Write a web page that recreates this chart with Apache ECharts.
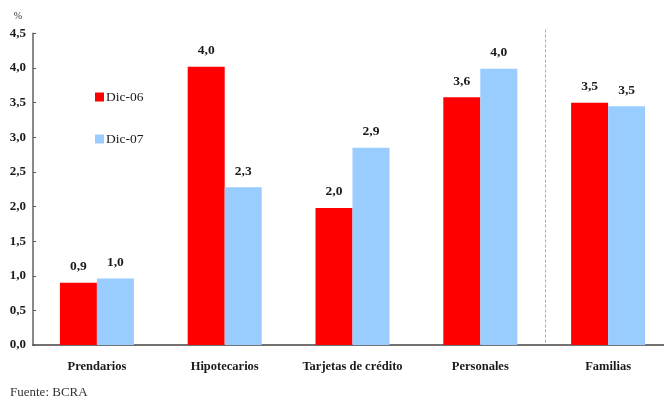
<!DOCTYPE html>
<html>
<head>
<meta charset="utf-8">
<script src="https://cdn.jsdelivr.net/npm/echarts@6/dist/echarts.min.js"></script>
<style>
  html, body { margin: 0; padding: 0; background: #fff; }
  #chart { width: 664px; height: 401px; }
</style>
</head>
<body>
<div id="chart"></div>
<script>
// Morosidad de préstamos a familias, % de la cartera
const categories = ['Prendarios', 'Hipotecarios', 'Tarjetas de crédito', 'Personales', 'Familias'];
const dic06 = [0.90, 4.02, 1.98, 3.58, 3.50];
const dic07 = [0.96, 2.28, 2.85, 3.99, 3.45];
const seriesNames = ['Dic-06', 'Dic-07'];
const yTicks = [0, 0.5, 1, 1.5, 2, 2.5, 3, 3.5, 4, 4.5];

const SERIF = '"Liberation Serif", "DejaVu Serif", serif';
const fmt = v => v.toFixed(1).replace('.', ',');

const chart = echarts.init(document.getElementById('chart'), null, { renderer: 'canvas' });

const valueLabel = {
  show: true,
  position: 'top',
  distance: 9,
  formatter: p => fmt(p.value),
  fontFamily: SERIF,
  fontWeight: 'bold',
  fontSize: 13.5,
  color: '#1a1a1a'
};

chart.setOption({
  animation: false,
  backgroundColor: '#ffffff',
  grid: {
    left: 33, width: 639, top: 33.5, bottom: 56,
    containLabel: false, outerBoundsMode: 'none'
  },
  legend: {
    orient: 'vertical',
    left: 90,
    top: 85,
    itemWidth: 9,
    itemHeight: 9,
    itemGap: 28,
    icon: 'rect',
    textStyle: { fontFamily: SERIF, fontSize: 13.5, color: '#1a1a1a', padding: [0, 0, 0, -3] },
    data: seriesNames
  },
  xAxis: {
    type: 'category',
    data: categories,
    axisLine: { lineStyle: { color: '#444', width: 1.5 } },
    axisTick: { show: false },
    axisLabel: {
      fontFamily: SERIF, fontWeight: 'bold', fontSize: 12.5, color: '#1a1a1a',
      margin: 15, interval: 0
    }
  },
  yAxis: {
    type: 'value',
    min: yTicks[0],
    max: yTicks[yTicks.length - 1],
    interval: 0.5,
    name: '%',
    nameLocation: 'end',
    nameGap: 12,
    nameTextStyle: { fontFamily: SERIF, fontSize: 10, color: '#333', align: 'right', padding: [0, 11, 0, 0] },
    axisLine: { show: true, lineStyle: { color: '#8a8a8a', width: 2 } },
    axisTick: { show: true, inside: true, length: 3, lineStyle: { color: '#555', width: 1 } },
    splitLine: { show: false },
    axisLabel: {
      formatter: v => fmt(v),
      fontFamily: SERIF, fontWeight: 'bold', fontSize: 13, color: '#1a1a1a', margin: 7
    }
  },
  series: [
    {
      name: seriesNames[0], type: 'bar', data: dic06,
      barWidth: 37, barGap: '0%',
      itemStyle: { color: '#ff0000' },
      label: valueLabel
    },
    {
      name: seriesNames[1], type: 'bar', data: dic07,
      barWidth: 37, barGap: '0%',
      itemStyle: { color: '#99ccff' },
      label: valueLabel
    }
  ]
});

// Dashed separator between the product groups and the total for households
const xA = chart.convertToPixel({ xAxisIndex: 0 }, 3);
const xB = chart.convertToPixel({ xAxisIndex: 0 }, 4);
const yTop = chart.convertToPixel({ yAxisIndex: 0 }, 4.5);
const yBot = chart.convertToPixel({ yAxisIndex: 0 }, 0);
const sepX = Math.round((xA + xB) / 2) + 1.5;

chart.setOption({
  graphic: [
    {
      type: 'line',
      shape: { x1: sepX, y1: yTop - 4, x2: sepX, y2: yBot - 1 },
      style: { stroke: '#aaaaaa', lineWidth: 1, lineDash: [3, 2] },
      z: 1
    },
    {
      type: 'text',
      left: 10,
      top: 386,
      style: { text: 'Fuente: BCRA', fontFamily: SERIF, fontSize: 13, fill: '#333' }
    }
  ]
});
</script>
</body>
</html>
